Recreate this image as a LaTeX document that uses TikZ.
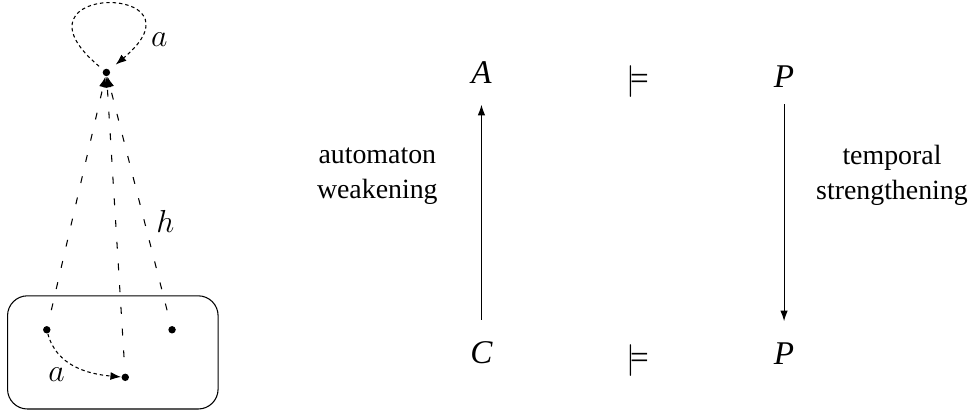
\documentclass[tikz,border=0pt]{standalone}
\usepackage{amsmath}
\usepackage{amssymb}
\usepackage{fontspec}
\setmainfont{Liberation Serif}
\usetikzlibrary{arrows.meta,calc,positioning}
\tikzset{
  estado/.style={
    circle,
    fill=black,
    inner sep=0pt,
    minimum size=2.8pt
  },
  caja/.style={
    rounded corners=7.5pt,
    draw=black
  },
  trans/.style={
    -{Latex[length=4pt,width=3pt]},
    dash pattern=on 1.3pt off 1.1pt
  },
  homo/.style={
    -{Latex[length=4pt,width=3pt]},
    dash pattern=on 2.6pt off 5.6pt,
    shorten <=6pt
  },
  flecha/.style={
    -{Latex[length=4pt,width=2.8pt]}
  },
  simbolo/.style={
    font=\fontsize{12.5}{15}\selectfont
  },
  texto/.style={
    align=center,
    inner sep=0pt,
    font=\fontsize{10.5}{13.2}\selectfont
  }
}

\begin{document}
\begin{tikzpicture}
\useasboundingbox (0,0) rectangle (12.92,5.43);
% lado izquierdo: automata y homomorfismo
\draw[caja] (0.10,0.01) rectangle (2.89,1.51);
\node[estado] (t) at (1.41,4.47) {};
\node[estado] (c1) at (0.62,1.06) {};
\node[estado] (c2) at (2.28,1.06) {};
\node[estado] (c3) at (1.66,0.43) {};
\draw[trans,shorten <=2pt,shorten >=3pt] (t) .. controls +(140:1.85) and +(40:1.85) .. (t);
\node[simbolo] (la) at (2.11,4.91) {$a$};
\draw[trans] (c1) to[out=-75,in=175] (c3);
\node[simbolo] (lb) at (0.75,0.46) {$a$};
\draw[homo] (c1) -- (t);
\draw[homo] (c3) -- (t);
\draw[homo] (c2) -- (t);
\node[simbolo] (lh) at (2.19,2.50) {$h$};
% lado derecho
\node[simbolo] (A) at (6.38,4.47) {\textit{A}};
\node[simbolo] (m1) at (8.45,4.35) {$\models$};
\node[simbolo] (P1) at (10.39,4.42) {\textit{P}};
\node[simbolo] (C) at (6.38,0.75) {\textit{C}};
\node[simbolo] (m2) at (8.45,0.65) {$\models$};
\node[simbolo] (P2) at (10.39,0.74) {\textit{P}};
\draw[flecha,shorten <=4.9pt,shorten >=4.5pt] (C) -- (A);
\draw[flecha,shorten <=3pt,shorten >=4.7pt] (P1) -- (P2);
\node[texto] (aw) at (5.00,3.10) {automaton\\weakening};
\node[texto] (ts) at (11.82,3.10) {temporal\\strengthening};
\end{tikzpicture}
\end{document}
